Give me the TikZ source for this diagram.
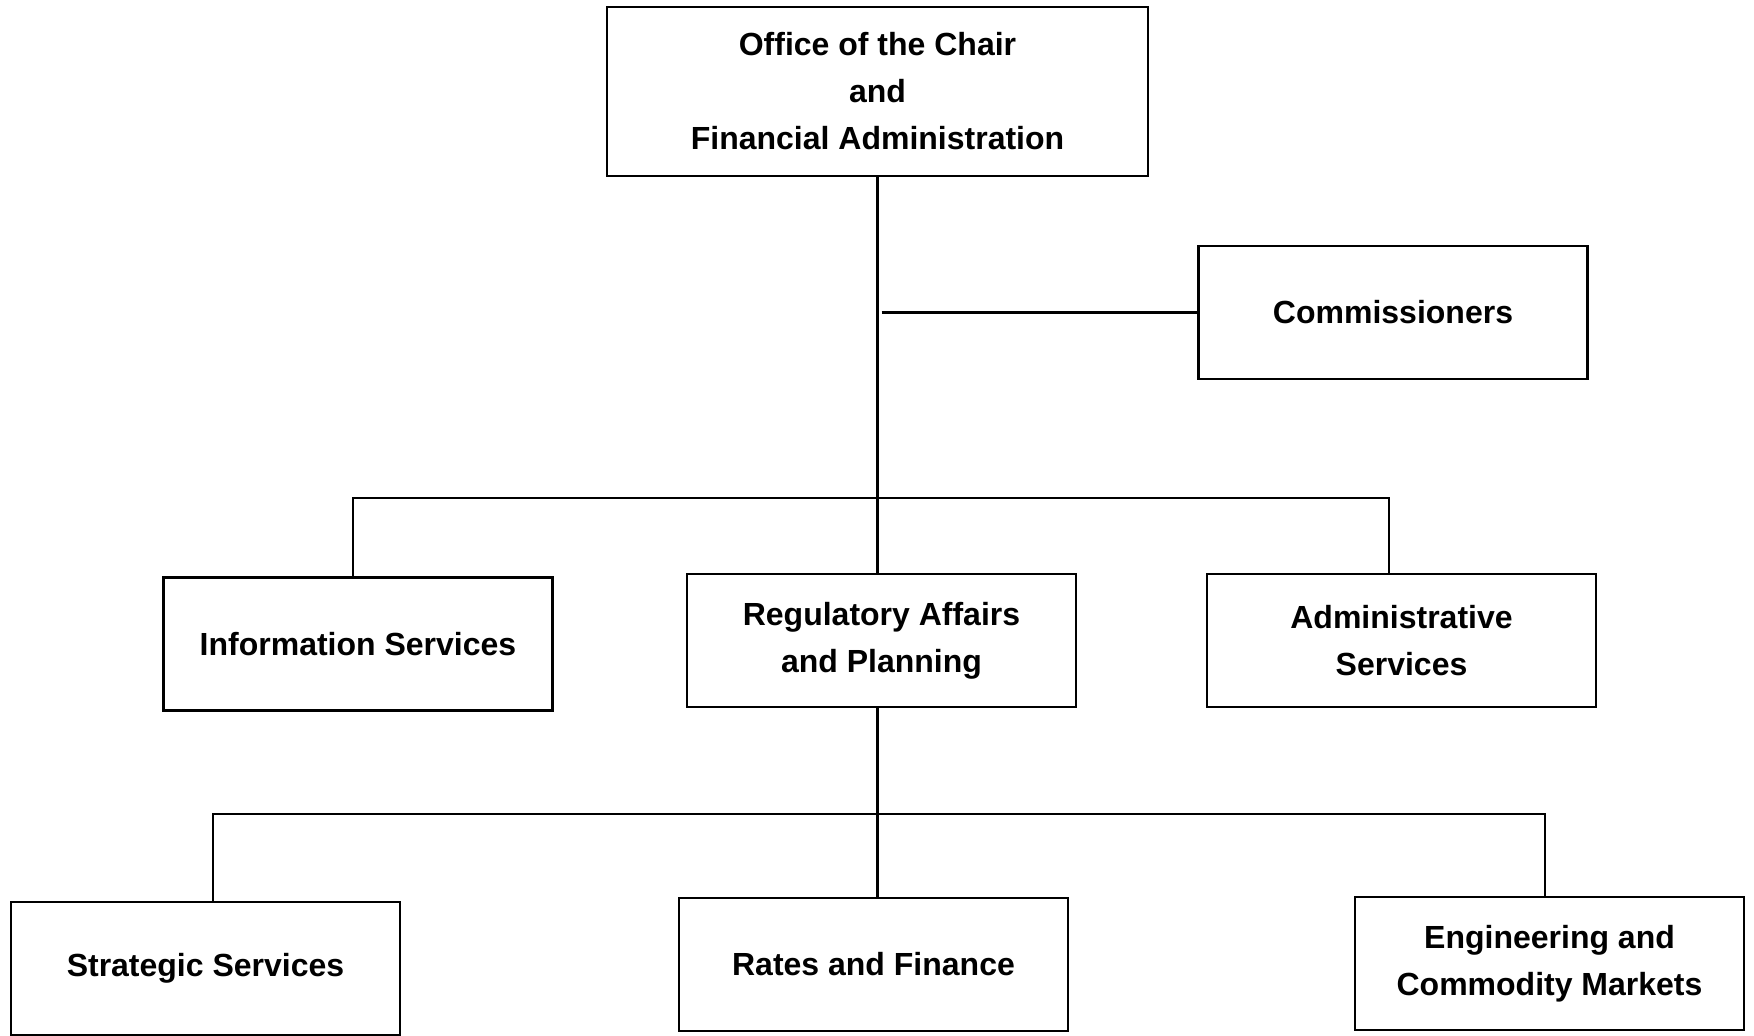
\documentclass[tikz,border=0pt]{standalone}
\usepackage{fontspec}
\setmainfont{Liberation Sans}
\usepackage{tikz}
\tikzset{
    unit/.style={
        rectangle,
        draw=black, line width=1.1pt,
        minimum width=194.5pt,
        minimum height=66.5pt,
        align=center,
        font=\fontsize{16}{23.5}\selectfont\bfseries
    },
    orgline/.style={draw, line width=1.1pt}
}
\begin{document}
\begin{tikzpicture}[x=0.5pt, y=-0.5pt]
    \useasboundingbox (0,0) rectangle (1754,1035);

    % top of the chart
    \node[unit, minimum width=270.5pt, minimum height=84.5pt] (chair) at (877.5,91.5)
        {Office of the Chair\\and\\Financial Administration};
    \node[unit] (comm) at (1393,312.5) {Commissioners};

    % second level
    \node[unit] (info) at (358,644) {Information Services};
    \node[unit] (reg) at (881.5,640.5) {Regulatory Affairs\\and Planning};
    \node[unit] (admin) at (1401.5,640.5) {Administrative\\Services};

    % third level
    \node[unit] (strat) at (205.5,968.5) {Strategic Services};
    \node[unit] (rates) at (873.5,964.5) {Rates and Finance};
    \node[unit] (eng) at (1549.5,963.5) {Engineering and\\Commodity Markets};

    \coordinate (lbus1) at (353,498);
    \coordinate (rbus1) at (1389,498);
    \coordinate (lbus2) at (213,814);
    \coordinate (rbus2) at (1545,814);

    \draw[orgline] (chair.south) -- (chair.south |- reg.north);
    \draw[orgline] ([xshift=2pt]chair.south |- comm.west) -- (comm.west);
    \draw[orgline] (lbus1 |- info.north) -- (lbus1) -- (rbus1) -- (rbus1 |- admin.north);
    \draw[orgline] (chair.south |- reg.south) -- (chair.south |- rates.north);
    \draw[orgline] (lbus2 |- strat.north) -- (lbus2) -- (rbus2) -- (rbus2 |- eng.north);
\end{tikzpicture}
\end{document}
